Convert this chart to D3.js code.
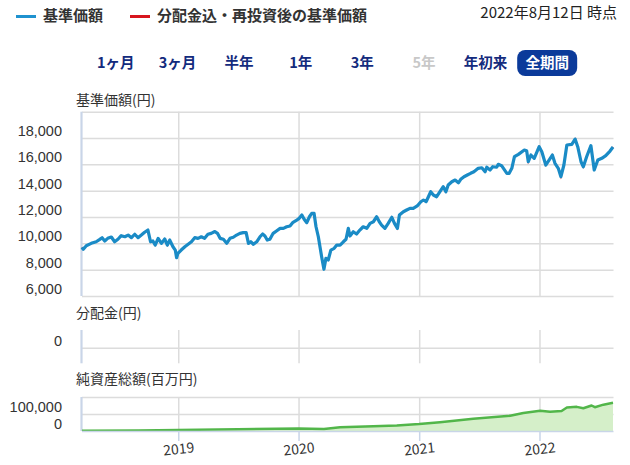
<!DOCTYPE html>
<html><head><meta charset="utf-8">
<script src="https://cdn.jsdelivr.net/npm/d3@7"></script>
<style>
html,body{margin:0;padding:0;background:#fff;}
svg{display:block;font-family:"Noto Sans CJK JP","Noto Sans",sans-serif;}
</style></head><body>
<svg id="chart" width="630" height="465"></svg>
<script>
// ---------- data ----------
const navDates = ["2018-03-15","2018-03-19","2018-03-28","2018-04-12","2018-04-27","2018-05-08","2018-05-15","2018-05-23","2018-06-01","2018-06-12","2018-06-22","2018-07-02","2018-07-12","2018-07-23","2018-08-02","2018-08-12","2018-08-22","2018-09-01","2018-09-11","2018-09-21","2018-10-01","2018-10-09","2018-10-16","2018-10-23","2018-11-01","2018-11-11","2018-11-21","2018-11-29","2018-12-06","2018-12-16","2018-12-23","2018-12-27","2018-12-31","2019-01-10","2019-01-21","2019-01-31","2019-02-10","2019-02-20","2019-03-02","2019-03-12","2019-03-22","2019-04-01","2019-04-11","2019-04-22","2019-04-30","2019-05-08","2019-05-18","2019-05-28","2019-06-07","2019-06-17","2019-06-27","2019-07-07","2019-07-17","2019-07-26","2019-08-02","2019-08-09","2019-08-17","2019-08-27","2019-09-06","2019-09-14","2019-09-21","2019-09-28","2019-10-06","2019-10-16","2019-10-27","2019-11-06","2019-11-16","2019-11-26","2019-12-06","2019-12-14","2019-12-24","2020-01-03","2020-01-11","2020-01-18","2020-01-26","2020-02-03","2020-02-10","2020-02-17","2020-02-23","2020-03-01","2020-03-06","2020-03-11","2020-03-18","2020-03-24","2020-03-31","2020-04-08","2020-04-18","2020-04-26","2020-05-06","2020-05-16","2020-05-24","2020-05-31","2020-06-05","2020-06-15","2020-06-25","2020-07-05","2020-07-15","2020-07-26","2020-08-05","2020-08-15","2020-08-25","2020-09-02","2020-09-09","2020-09-19","2020-09-29","2020-10-10","2020-10-18","2020-10-27","2020-11-02","2020-11-14","2020-11-24","2020-12-04","2020-12-14","2020-12-26","2021-01-06","2021-01-14","2021-01-22","2021-01-29","2021-02-05","2021-02-13","2021-02-23","2021-03-05","2021-03-15","2021-03-23","2021-03-30","2021-04-10","2021-04-20","2021-04-30","2021-05-07","2021-05-17","2021-05-27","2021-06-06","2021-06-16","2021-06-29","2021-07-10","2021-07-20","2021-07-25","2021-08-04","2021-08-12","2021-08-24","2021-08-29","2021-09-08","2021-09-24","2021-10-01","2021-10-09","2021-10-17","2021-10-29","2021-11-16","2021-11-23","2021-11-28","2021-12-06","2021-12-16","2021-12-31","2022-01-08","2022-01-20","2022-01-30","2022-02-09","2022-02-17","2022-02-27","2022-03-07","2022-03-16","2022-03-25","2022-04-09","2022-04-19","2022-04-27","2022-05-07","2022-05-14","2022-05-24","2022-06-06","2022-06-16","2022-06-27","2022-07-09","2022-07-21","2022-08-03","2022-08-12"];
const navValues = [9700,9550,9820,10000,10120,10300,10430,10180,10380,10480,10120,10310,10580,10500,10630,10430,10690,10430,10630,10840,11010,10120,10180,9870,10380,10000,10330,9870,10250,9740,9490,8910,9240,9490,9740,9930,10120,10430,10380,10500,10380,10690,10760,10900,10760,10380,10310,10000,10380,10460,10630,10760,10810,10810,10000,10120,9930,10120,10500,10710,10560,10250,10310,10760,10960,11140,11140,11260,11320,11570,11720,11900,12150,11830,11570,12020,12280,12280,11260,10500,9740,8990,8030,8860,8730,9490,9620,9870,9870,10120,10310,11140,10560,10880,10710,11010,11260,11140,11520,11640,12020,11640,11390,11140,11520,11980,11520,11140,12150,12400,12530,12660,12660,12840,13160,13290,13160,13540,13920,13670,13540,13920,14300,13920,14430,14680,14810,14600,14860,15060,15190,15320,15440,15700,15740,15440,15780,15570,15820,15780,16000,15900,15320,15320,15700,16580,16760,17090,17040,16200,16710,16460,17340,16960,15950,16330,16710,16080,15700,15060,15950,17470,17520,17920,17340,16200,15820,16580,17420,15570,16330,16460,16660,17010,17320];

const assetDates = ["2018-03-15","2018-09-01","2019-01-01","2019-07-01","2020-01-01","2020-03-18","2020-05-06","2020-08-15","2020-10-25","2021-01-01","2021-03-05","2021-06-14","2021-10-04","2021-11-13","2022-01-03","2022-02-02","2022-03-09","2022-03-25","2022-04-24","2022-05-14","2022-06-08","2022-06-18","2022-07-14","2022-08-12"];
const assetValues = [1000,3000,6000,10000,15000,12000,22000,28000,33000,41000,52000,72000,90000,106000,119000,113000,118000,138000,142000,134000,150000,140000,155000,166000];

const navGrid = [6000,8000,10000,12000,14000,16000,18000,20000];
const navTickLabels = [6000,8000,10000,12000,14000,16000,18000];
const distTicks = [0];
const assetGrid = [0,100000,200000];
const assetTickLabels = [0,100000];
const yearTicks = ["2019-01-01","2020-01-01","2021-01-01","2022-01-01"];
const rangeButtons = ["1ヶ月","3ヶ月","半年","1年","3年","5年","年初来","全期間"];
const legendItems = ["基準価額","分配金込・再投資後の基準価額"];
const asOfText = "2022年8月12日 時点";
const panelTitles = ["基準価額(円)","分配金(円)","純資産総額(百万円)"];

// ---------- setup ----------
const parse = d3.timeParse("%Y-%m-%d");
const nav = navDates.map((d,i)=>({date:parse(d), v:navValues[i]}));
const assets = assetDates.map((d,i)=>({date:parse(d), v:assetValues[i]}));
const years = yearTicks.map(parse);

const svg = d3.select("#chart");
const L = 82, R = 613.5;
const gridCol = "#dcdcdc", axisCol = "#c9d5e8", textCol = "#333";
const FONT = '"Noto Sans CJK JP","Noto Sans",sans-serif';
const NUMFONT = '"Liberation Sans","Noto Sans",sans-serif';

const x = d3.scaleTime().domain([parse("2018-03-15"), parse("2022-08-12")]).range([L, R - 0.5]);

// legend
const legendColors = ["#1f92cf","#d7161e"];
const legX = [16, 130];
legendItems.forEach((t,i)=>{
  svg.append("line").attr("x1",legX[i]).attr("x2",legX[i]+20).attr("y1",16.5).attr("y2",16.5)
    .attr("stroke",legendColors[i]).attr("stroke-width",3);
  svg.append("text").attr("x",legX[i]+27).attr("y",16).attr("dy","0.35em")
    .attr("font-size",15).attr("font-weight","bold").attr("fill",textCol).text(t);
});
svg.append("text").attr("x",617).attr("y",13).attr("dy","0.35em").attr("text-anchor","end")
  .attr("font-size",15).attr("fill","#222").text(asOfText);

// range buttons
const bx = d3.scaleBand().domain(rangeButtons).range([85, 578]);
const btn = svg.append("g");
btn.append("rect").attr("x", bx("全期間") + bx.bandwidth()/2 - 30).attr("y",50).attr("width",60).attr("height",26)
  .attr("rx",8).attr("fill","#0b3a9a");
rangeButtons.forEach(b=>{
  btn.append("text").attr("x", bx(b)+bx.bandwidth()/2).attr("y",62.5).attr("dy","0.35em")
    .attr("text-anchor","middle").attr("font-size",14.5).attr("font-weight","bold")
    .attr("fill", b==="全期間" ? "#fff" : (b==="5年" ? "#c8c8c8" : "#132b7d")).text(b);
});

function panel(opts){
  const {y, grid, labels, top, bottom, title, titleY, fmt} = opts;
  svg.append("text").attr("x",76).attr("y",titleY).attr("dy","0.35em").attr("font-size",14)
    .attr("fill",textCol).text(title);
  // horizontal grid
  const gg = svg.append("g").attr("transform",`translate(${L},0)`)
    .call(d3.axisLeft(y).tickValues(grid).tickSize(-(R-L)).tickFormat(""));
  gg.select(".domain").remove();
  gg.selectAll("line").attr("stroke",gridCol).attr("stroke-width",1.5);
  // vertical grid
  const vg = svg.append("g").attr("transform",`translate(0,${bottom})`)
    .call(d3.axisBottom(x).tickValues(years).tickSize(-(bottom-top)).tickFormat(""));
  vg.select(".domain").remove();
  vg.selectAll("line").attr("stroke",gridCol).attr("stroke-width",1.5);
  // labels
  const lg = svg.append("g").attr("transform",`translate(${L},0)`)
    .call(d3.axisLeft(y).tickValues(labels).tickSize(0).tickPadding(20).tickFormat(fmt));
  lg.attr("font-family",NUMFONT).attr("font-size",14.5);
  lg.select(".domain").remove();
  lg.selectAll("text").attr("fill",textCol).attr("y",-7.5).attr("dy","0.35em");
  // left axis line
  svg.append("line").attr("x1",L-0.5).attr("x2",L-0.5).attr("y1",top).attr("y2",bottom)
    .attr("stroke",axisCol).attr("stroke-width",2.2);
}

// ---------- main panel ----------
const yMain = d3.scaleLinear().domain([6000,20000]).range([296, 111.7]);
panel({y:yMain, grid:navGrid, labels:navTickLabels, top:111.7, bottom:296, title:panelTitles[0], titleY:100, fmt:d3.format(",")});

const lineMain = d3.line().x(d=>x(d.date)).y(d=>yMain(d.v));
svg.append("path").datum(nav).attr("d",lineMain).attr("fill","none")
  .attr("stroke",legendColors[1]).attr("stroke-width",1.5);
svg.append("path").datum(nav).attr("d",lineMain).attr("fill","none")
  .attr("stroke","#1a8bc6").attr("stroke-width",3.2).attr("stroke-linejoin","round");

// ---------- distribution panel ----------
const yDist = d3.scaleLinear().domain([-1,1]).range([363, 332.4]);
panel({y:yDist, grid:distTicks, labels:distTicks, top:330, bottom:363.3, title:panelTitles[1], titleY:313, fmt:d3.format(",")});

// ---------- net assets panel ----------
const yAsset = d3.scaleLinear().domain([0,200000]).range([431, 397]);
panel({y:yAsset, grid:assetGrid.slice(1), labels:assetTickLabels, top:397, bottom:431, title:panelTitles[2], titleY:379.5, fmt:d3.format(",")});

const area = d3.area().x(d=>x(d.date)).y0(yAsset(0)).y1(d=>yAsset(d.v));
svg.append("path").datum(assets).attr("d",area).attr("fill","#d5efc9");
svg.append("path").datum(assets).attr("d",d3.line().x(d=>x(d.date)).y(d=>yAsset(d.v)))
  .attr("fill","none").attr("stroke","#52b64a").attr("stroke-width",2.5).attr("stroke-linejoin","round");

// x axis
const xa = svg.append("g").attr("transform","translate(0,431)")
  .call(d3.axisBottom(x).tickValues(years).tickSize(10).tickSizeOuter(0).tickPadding(3).tickFormat(d3.timeFormat("%Y")));
xa.attr("font-family",FONT).attr("font-size",14);
xa.select(".domain").attr("stroke",axisCol).attr("stroke-width",1.5).attr("d",`M${L},0.5H${R}`);
xa.selectAll("line").attr("stroke",axisCol).attr("stroke-width",1.5);
xa.selectAll("text").attr("fill",textCol).attr("transform","rotate(-6 0 19)");
</script>
</body></html>
